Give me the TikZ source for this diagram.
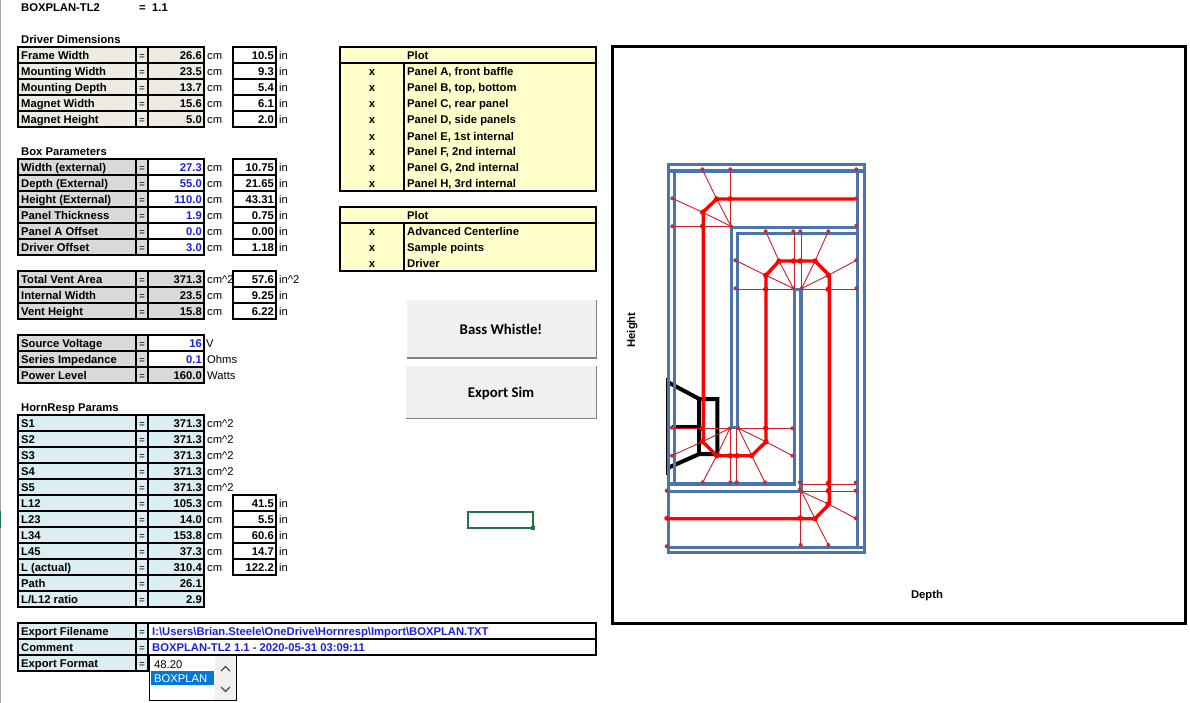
\documentclass[tikz,border=0pt]{standalone}
\usepackage{fontspec}
\setmainfont{Liberation Sans}
\newfontfamily\btnfont{Carlito}
\definecolor{beigeF}{HTML}{EEECE1}
\definecolor{greyF}{HTML}{D9D9D9}
\definecolor{iceF}{HTML}{DAEEF3}
\definecolor{yelF}{HTML}{FFFFCC}
\definecolor{inputB}{HTML}{1F1FE0}
\definecolor{panelB}{HTML}{4A74AB}
\definecolor{dotR}{HTML}{B8323C}
\definecolor{thinR}{HTML}{D01C24}
\definecolor{selG}{HTML}{217346}
\definecolor{listB}{HTML}{0078D7}
\tikzset{
  bt/.style={inner sep=0pt,font=\fontsize{11.25}{12}\selectfont\bfseries,anchor=base west},
  bc/.style={inner sep=0pt,font=\fontsize{11.25}{12}\selectfont\bfseries,anchor=base},
  br/.style={inner sep=0pt,font=\fontsize{11.25}{12}\selectfont\bfseries,anchor=base east},
  rt/.style={inner sep=0pt,font=\fontsize{11.25}{12}\selectfont,anchor=base west},
  eqs/.style={inner sep=0pt,font=\fontsize{10}{12}\selectfont,anchor=base},
  btn/.style={inner sep=0pt,font=\btnfont\fontsize{14.8}{16}\selectfont\bfseries,anchor=base},
  cell/.style={draw=black,line width=2pt},
  panel/.style={draw=panelB,line width=3.3pt},
  hot/.style={draw=red,line width=3.4pt,line join=round},
  thin/.style={draw=thinR,line width=.9pt},
  smpl/.style={fill=dotR,draw=none},
  hotdot/.style={fill=red,draw=none},
  drv/.style={draw=black,line width=4pt,line join=miter},
}
% row: y, label, label fill, value, value fill, value colour, unit
\newcommand{\trow}[7]{%
  \fill[#3] (18,#1) rectangle (136,#1+16);
  \fill[#3] (136,#1) rectangle (148,#1+16);
  \fill[#5] (148,#1) rectangle (204,#1+16);
  \draw[cell] (18,#1) rectangle (136,#1+16);
  \draw[cell] (136,#1) rectangle (148,#1+16);
  \draw[cell] (148,#1) rectangle (204,#1+16);
  \node[bt] (lab#1) at (21,#1+12.5) {#2};
  \node[eqs] (eq#1) at (142,#1+12.5) {=};
  \node[br,text=#6] (val#1) at (202,#1+12.5) {#4};
  \node[rt] (unit#1) at (207,#1+12.5) {#7};
}
% inch box: y, value, unit
\newcommand{\irow}[3]{%
  \draw[cell,fill=white] (233,#1) rectangle (276,#1+16);
  \node[br] (inch#1) at (274,#1+12.5) {#2};
  \node[rt] (iu#1) at (279,#1+12.5) {#3};
}
% plot table row: y, text
\newcommand{\prow}[2]{%
  \node[bc] (px#1) at (372,#1+12.5) {x};
  \node[bt] (pl#1) at (407,#1+12.5) {#2};
}
\newcommand{\sdot}[2]{\fill[smpl] (#1,#2) circle (2);}
\newcommand{\hdot}[2]{\fill[hotdot] (#1,#2) circle (2.7);}
\begin{document}
\begin{tikzpicture}[x=1pt,y=-1pt]
\useasboundingbox (0,0) rectangle (1190,703);
\fill[white] (0,0) rectangle (1190,703);
% sheet edge
\fill[gray!70] (0,0) rectangle (1.3,703);
\fill[selG] (0,511) rectangle (1.3,528);
% title
\node[bt] (title) at (21,12) {BOXPLAN-TL2};
\node[bt] (titleeq) at (139,12) {=};
\node[bt] (titleval) at (152,12) {1.1};
% driver dimensions
\node[bt] (hdriver) at (21,43.5) {Driver Dimensions};
\trow{47}{Frame Width}{beigeF}{26.6}{beigeF}{black}{cm}\irow{47}{10.5}{in}
\trow{63}{Mounting Width}{beigeF}{23.5}{beigeF}{black}{cm}\irow{63}{9.3}{in}
\trow{79}{Mounting Depth}{beigeF}{13.7}{beigeF}{black}{cm}\irow{79}{5.4}{in}
\trow{95}{Magnet Width}{beigeF}{15.6}{beigeF}{black}{cm}\irow{95}{6.1}{in}
\trow{111}{Magnet Height}{beigeF}{5.0}{beigeF}{black}{cm}\irow{111}{2.0}{in}
% box parameters
\node[bt] (hbox) at (21,155.5) {Box Parameters};
\trow{159}{Width (external)}{greyF}{27.3}{white}{inputB}{cm}\irow{159}{10.75}{in}
\trow{175}{Depth (External)}{greyF}{55.0}{white}{inputB}{cm}\irow{175}{21.65}{in}
\trow{191}{Height (External)}{greyF}{110.0}{white}{inputB}{cm}\irow{191}{43.31}{in}
\trow{207}{Panel Thickness}{greyF}{1.9}{white}{inputB}{cm}\irow{207}{0.75}{in}
\trow{223}{Panel A Offset}{greyF}{0.0}{white}{inputB}{cm}\irow{223}{0.00}{in}
\trow{239}{Driver Offset}{greyF}{3.0}{white}{inputB}{cm}\irow{239}{1.18}{in}
% vent
\trow{271}{Total Vent Area}{greyF}{371.3}{greyF}{black}{cm\textasciicircum 2}\irow{271}{57.6}{in\textasciicircum 2}
\trow{287}{Internal Width}{greyF}{23.5}{greyF}{black}{cm}\irow{287}{9.25}{in}
\trow{303}{Vent Height}{greyF}{15.8}{greyF}{black}{cm}\irow{303}{6.22}{in}
% power
\trow{335}{Source Voltage}{greyF}{16}{white}{inputB}{\hspace{-1pt}V}
\trow{351}{Series Impedance}{greyF}{0.1}{white}{inputB}{Ohms}
\trow{367}{Power Level}{greyF}{160.0}{greyF}{black}{Watts}
% hornresp
\node[bt] (hhorn) at (21,411) {HornResp Params};
\trow{415}{S1}{iceF}{371.3}{iceF}{black}{cm\textasciicircum 2}
\trow{431}{S2}{iceF}{371.3}{iceF}{black}{cm\textasciicircum 2}
\trow{447}{S3}{iceF}{371.3}{iceF}{black}{cm\textasciicircum 2}
\trow{463}{S4}{iceF}{371.3}{iceF}{black}{cm\textasciicircum 2}
\trow{479}{S5}{iceF}{371.3}{iceF}{black}{cm\textasciicircum 2}
\trow{495}{L12}{iceF}{105.3}{iceF}{black}{cm}\irow{495}{41.5}{in}
\trow{511}{L23}{iceF}{14.0}{iceF}{black}{cm}\irow{511}{5.5}{in}
\trow{527}{L34}{iceF}{153.8}{iceF}{black}{cm}\irow{527}{60.6}{in}
\trow{543}{L45}{iceF}{37.3}{iceF}{black}{cm}\irow{543}{14.7}{in}
\trow{559}{L (actual)}{iceF}{310.4}{iceF}{black}{cm}\irow{559}{122.2}{in}
\trow{575}{Path}{iceF}{26.1}{iceF}{black}{}
\trow{591}{L/L12 ratio}{iceF}{2.9}{iceF}{black}{}
% export
\foreach \yy in {623,639,655}{
  \fill[iceF] (18,\yy) rectangle (148,\yy+16);
  \draw[cell] (18,\yy) rectangle (136,\yy+16);
  \draw[cell] (136,\yy) rectangle (148,\yy+16);
}
\draw[cell,fill=white] (148,623) rectangle (596,639);
\draw[cell,fill=white] (148,639) rectangle (596,655);
\node[bt] (lexp) at (21,635.5) {Export Filename};
\node[eqs] (eexp) at (142,635.5) {=};
\node[bt,text=inputB] (vexp) at (152,635.5) {I:\textbackslash Users\textbackslash Brian.Steele\textbackslash OneDrive\textbackslash Hornresp\textbackslash Import\textbackslash BOXPLAN.TXT};
\node[bt] (lcom) at (21,651.5) {Comment};
\node[eqs] (ecom) at (142,651.5) {=};
\node[bt,text=inputB] (vcom) at (152,651.5) {BOXPLAN-TL2 1.1 - 2020-05-31 03:09:11};
\node[bt] (lfmt) at (21,667.5) {Export Format};
\node[eqs] (efmt) at (142,667.5) {=};
% list box
\draw[black,line width=1pt,fill=white] (149.5,655.5) rectangle (236.5,700.5);
\fill[black!6] (215,656) rectangle (236,700);
\fill[listB] (150.5,671) rectangle (214,685);
\node[rt] (li1) at (154,668) {48.20};
\node[rt,text=white] (li2) at (154,682) {BOXPLAN};
\draw[black!70,line width=1.2pt] (221,671) -- (225.5,666.5) -- (230,671);
\draw[black!70,line width=1.2pt] (221,687) -- (225.5,691.5) -- (230,687);
% plot tables
\fill[yelF] (340,47) rectangle (596,191);
\draw[cell] (340,47) rectangle (596,191);
\draw[cell] (340,63) -- (596,63);
\draw[cell] (403.5,63) -- (403.5,191);
\node[bt] (ph1) at (407,59.5) {Plot};
\prow{63}{Panel A, front baffle}
\prow{79}{Panel B, top, bottom}
\prow{95}{Panel C, rear panel}
\prow{111}{Panel D, side panels}
\prow{128}{Panel E, 1st internal}
\prow{143}{Panel F, 2nd internal}
\prow{159}{Panel G, 2nd internal}
\prow{175}{Panel H, 3rd internal}
\fill[yelF] (340,207) rectangle (596,271);
\draw[cell] (340,207) rectangle (596,271);
\draw[cell] (340,223) -- (596,223);
\draw[cell] (403.5,223) -- (403.5,271);
\node[bt] (ph2) at (407,219.5) {Plot};
\prow{223}{Advanced Centerline}
\prow{239}{Sample points}
\prow{255}{Driver}
% buttons
\fill[black!6] (406.7,299.5) rectangle (596.5,358);
\draw[black!50,line width=1.5pt] (406.7,358) -- (596.5,358) -- (596.5,299.5);
\node[btn] (bw) at (501,334.3) {Bass Whistle!};
\fill[black!6] (405.7,366) rectangle (596.5,418.7);
\draw[black!50,line width=1.5pt] (405.7,418.7) -- (596.5,418.7) -- (596.5,366);
\node[btn] (es) at (501,397) {Export Sim};
% selected cell
\draw[selG,line width=2pt] (468,511.5) rectangle (533,527.5);
\fill[selG] (531,526) rectangle (535,530);
% chart
\draw[black,line width=2.4pt,fill=white] (612.5,46.5) rectangle (1185.5,623.5);
\node[bc,rotate=90] (ylab) at (635,330) {Height};
\node[bc] (xlab) at (927,598) {Depth};
% driver
\draw[draw=black,line width=3pt] (667.5,378) -- (667.5,475);
\draw[drv] (667,381.7) -- (699.3,399) -- (717.3,399) -- (717.3,454) -- (699.3,454) -- (667,468.3);
\draw[drv] (699.3,399) -- (699.3,454);
\draw[drv] (671.7,426.7) -- (699.3,426.7);
% panels
\draw[panel] (668.5,164.7) rectangle (864.5,552.7);
\draw[panel] (667,171) -- (866,171);
\draw[panel] (667,547.3) -- (866,547.3);
\draw[panel] (674.5,171) -- (674.5,484);
\draw[panel] (857.5,171) -- (857.5,547.3);
\draw[panel] (667,484) -- (795.8,484);
\draw[panel] (667,491.7) -- (802.5,491.7);
\draw[panel] (731.7,429) -- (731.7,227.3) -- (857.5,227.3);
\draw[panel] (737.3,429) -- (737.3,233.3) -- (857.5,233.3);
\draw[panel] (730.2,427.8) -- (738.8,427.8);
\draw[panel] (794.3,484) -- (794.3,289.3);
\draw[panel] (801,491.7) -- (801,289.3);
\draw[panel] (792.8,289.3) -- (802.5,289.3);
% thin construction lines: top-left
\draw[thin] (702.3,169.3) -- (716.7,199) -- (731,226.3);
\draw[thin] (730.3,169.3) -- (730.3,226.3);
\draw[thin] (672.3,198.3) -- (702.7,212.3) -- (731,226.3);
\draw[thin] (672.3,226.3) -- (731,226.3);
% top middle
\draw[thin] (765.7,231.3) -- (779,261) -- (793.3,288.3);
\draw[thin] (794.3,231.3) -- (794.3,288.3);
\draw[thin] (801,231.3) -- (801,288.3);
\draw[thin] (828.3,231.3) -- (815,261) -- (801.7,288.3);
\draw[thin] (735.3,260.3) -- (765.7,275.3) -- (793.3,288.3);
\draw[thin] (856.3,260.3) -- (828.3,275.3) -- (801.7,288.3);
\draw[thin] (735.3,289.3) -- (793.3,289.3);
\draw[thin] (856.3,289.3) -- (801.7,289.3);
% bottom left
\draw[thin] (671.7,428.3) -- (730,428.3);
\draw[thin] (738.3,428.3) -- (792.3,428.3);
\draw[thin] (671.7,455.7) -- (702.3,441.7) -- (730,428.3);
\draw[thin] (792.3,455.7) -- (766,441.7) -- (738.3,428.3);
\draw[thin] (702.7,482.3) -- (716.7,455.7) -- (730,428.3);
\draw[thin] (765,482.3) -- (751.7,455.7) -- (738.3,428.3);
\draw[thin] (730.3,482.3) -- (730.3,428.3);
\draw[thin] (736.7,482.3) -- (736.7,428.3);
% bottom right
\draw[thin] (801,484.3) -- (856,484.3);
\draw[thin] (801,491) -- (856,491);
\draw[thin] (855.7,518.3) -- (828.3,504) -- (801.7,491.7);
\draw[thin] (828.3,545) -- (815,518.7) -- (801.7,491.7);
\draw[thin] (800.7,545) -- (800.7,491.7);
% centre line
\draw[hot] (857,199) -- (716.7,199) -- (702.7,212.3) -- (703.3,214) -- (703.3,441) -- (702.7,441.7) -- (716.7,455.7) -- (751.7,455.7) -- (766,441.7) -- (766,275.3) -- (779,261) -- (815,261) -- (829.3,275.3) -- (829.3,504) -- (815,518.7) -- (668,518.7);
% sample points
\foreach \p/\q in {702.3/169.3,730.3/169.3,856.3/169.3,672.3/198.3,672.3/226.3,856.3/198.3,856.3/225.7,
  765.7/231.3,793.3/231.3,800.3/231.3,828.3/231.3,735.3/260.3,735.3/288.3,856.3/260.3,856.3/288.3,
  671.7/427.7,672/455.7,792.3/428.3,792.3/455.7,702.7/482.3,730.3/482.3,736.7/482.3,765/482.3,
  800/482.3,800/489.3,855.7/482.7,855.7/490.7,855.7/518.3,828.3/545,800.7/545,
  730/428.3,738.3/428.3,731/226.3,793.3/288.3,801.7/288.3,801.7/491.7,666.7/490.7,666.7/546.3}{\sdot{\p}{\q}}
\fill[red] (666.7,518.3) circle (2.4);
\foreach \p/\q in {730.3/198.8,716.7/199,702.7/212.3,702.7/226.3,
  765.7/275.3,779/261,793.3/261,800.3/261,815/261,828.3/275.3,765.7/289.3,828.3/289.3,
  702.3/428.3,702.3/441.7,716.7/455.7,730.3/455.7,737/455.7,751.7/455.7,766/441.7,765.7/428.3,
  828.3/483.3,828.3/490.7,828.3/504,815/518.7,800.3/518}{\hdot{\p}{\q}}
\end{tikzpicture}
\end{document}
